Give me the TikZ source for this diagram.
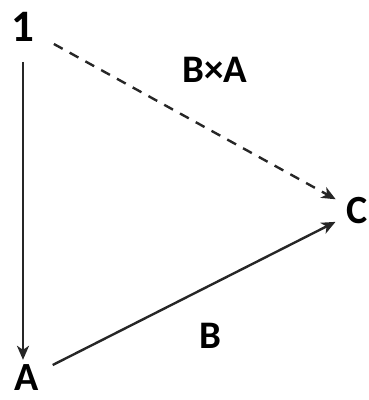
\documentclass[tikz,border=0pt]{standalone}
\usepackage{fontspec}
\setmainfont{Carlito}
\usetikzlibrary{arrows.meta,positioning}
\tikzset{
    obj/.style={
        inner sep=0pt,font=\fontsize{40}{40}\selectfont\bfseries
    },
    lbl/.style={
        inner sep=0pt,font=\fontsize{39}{39}\selectfont\bfseries
    },
    arrow/.style={
        -{Stealth[length=14pt,width=12pt,inset=4pt]},line width=2.4pt,draw=black!85
    }
}
\begin{document}
\begin{tikzpicture}[x=1pt,y=-1pt]
\useasboundingbox (0,0) rectangle (369,400);

\node[obj,font=\fontsize{45}{45}\selectfont\bfseries] (one) at (23,27) {1};
\node[obj] (A) at (27,378) {A};
\node[obj] (C) at (357,211) {C};

\draw[arrow,dashed,dash pattern=on 10pt off 8pt,shorten <=22pt,shorten >=12pt] (one) -- (C)
    node[lbl] (BxA) at (215,70) {B×A};
\draw[arrow,shorten <=20pt,shorten >=5pt] (one.south) -- (A.north -| one.south);
\draw[arrow,shorten <=15pt,shorten >=12pt] (A) -- (C)
    node[lbl] (B) at (210,336) {B};

\end{tikzpicture}
\end{document}
